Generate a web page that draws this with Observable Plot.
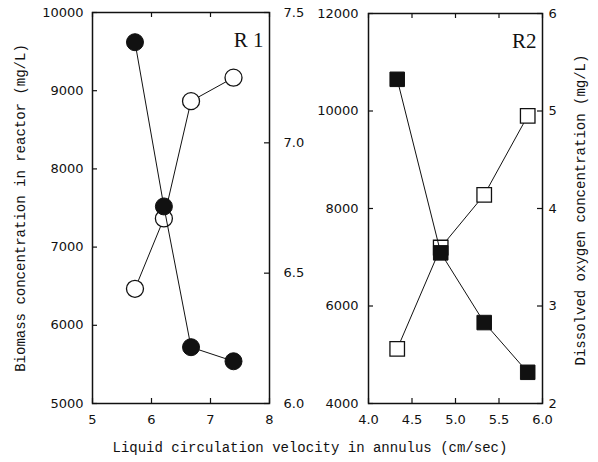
<!DOCTYPE html>
<html><head><meta charset="utf-8">
<script src="https://cdn.jsdelivr.net/npm/d3@7"></script>
<script src="https://cdn.jsdelivr.net/npm/@observablehq/plot@0.6"></script>
<style>
body{margin:0;background:#fff;}
#chart{position:relative;width:598px;height:462px;overflow:hidden;background:#fff;}
#chart svg{position:absolute;left:0;top:0;}
.title{position:absolute;font-family:"Liberation Mono",monospace;font-size:14px;white-space:nowrap;color:#111;line-height:1;}
</style></head><body><div id="chart"></div>
<script>
// Reactor R1
const r1Velocity = [5.72, 6.21, 6.67, 7.39];
const r1Biomass = [9620, 7520, 5720, 5540];
const r1DO = [6.44, 6.71, 7.16, 7.25];
// Reactor R2
const r2Velocity = [4.33, 4.83, 5.33, 5.83];
const r2Biomass = [10650, 7090, 5660, 4640];
const r2DO = [2.56, 3.60, 4.14, 4.95];
// Tick values
const r1XTicks = [5, 6, 7, 8];
const r1BiomassTicks = [5000, 6000, 7000, 8000, 9000, 10000];
const r1DOTicks = [6.0, 6.5, 7.0, 7.5];
const r2XTicks = [4.0, 4.5, 5.0, 5.5, 6.0];
const r2BiomassTicks = [4000, 6000, 8000, 10000, 12000];
const r2DOTicks = [2, 3, 4, 5, 6];

const W = 598, H = 462, TL = 5;
const rowsBio = (v, b) => v.map((x, i) => ({x, y: b[i]}));
const baseStyle = {background: "transparent", fontFamily: "DejaVu Sans", fontSize: "13px", color: "#111", overflow: "visible"};
const chart = document.getElementById("chart");

function panel({margins, xDomain, xTicks, xFmt, bioDomain, bioTicks, doDomain, doTicks, doFmt, vel, bio, dox, symbol, r, label, doPad, bioPad}) {
  const common = {width: W, height: H, ...margins, style: baseStyle};
  const fw = W - margins.marginLeft - margins.marginRight;
  const fh = H - margins.marginTop - margins.marginBottom;
  const dLayer = Plot.plot({
    ...common,
    x: {domain: xDomain, axis: null},
    y: {domain: doDomain, axis: null},
    marks: [
      Plot.axisY({anchor: "right", label: null, ticks: doTicks, tickFormat: doFmt, tickSize: 0, tickPadding: doPad}),
      Plot.tickY(doTicks, {y: d => d, insetLeft: fw - TL, stroke: "#111", strokeWidth: 1.2}),
      Plot.line(rowsBio(vel, dox), {x: "x", y: "y", stroke: "#111", strokeWidth: 1}),
      Plot.dot(rowsBio(vel, dox), {x: "x", y: "y", r, symbol, fill: "white", stroke: "#111", strokeWidth: 1.3})
    ]
  });
  const bLayer = Plot.plot({
    ...common,
    x: {domain: xDomain},
    y: {domain: bioDomain},
    marks: [
      Plot.frame({stroke: "#111", strokeWidth: 1.5}),
      Plot.axisY({anchor: "left", label: null, ticks: bioTicks, tickFormat: d3.format("d"), tickSize: 0, tickPadding: bioPad}),
      Plot.axisX({anchor: "bottom", label: null, ticks: xTicks, tickFormat: xFmt, tickSize: 0, tickPadding: 11}),
      Plot.tickY(bioTicks, {y: d => d, insetRight: fw - TL, stroke: "#111", strokeWidth: 1.2}),
      Plot.tickX(xTicks, {x: d => d, insetTop: fh - TL, stroke: "#111", strokeWidth: 1.2}),
      Plot.tickX(xTicks, {x: d => d, insetBottom: fh - TL, stroke: "#111", strokeWidth: 1.2}),
      Plot.line(rowsBio(vel, bio), {x: "x", y: "y", stroke: "#111", strokeWidth: 1}),
      Plot.dot(rowsBio(vel, bio), {x: "x", y: "y", r, symbol, fill: "#111", stroke: "#111", strokeWidth: 1}),
      Plot.text([label], {text: d => d, frameAnchor: "top-right", dx: -6, dy: 20, fontFamily: "Liberation Serif", fontSize: 21, fill: "#111", textAnchor: "end", lineAnchor: "top"})
    ]
  });
  chart.appendChild(dLayer);
  chart.appendChild(bLayer);
}

panel({
  margins: {marginLeft: 92, marginRight: 329, marginTop: 12, marginBottom: 59},
  xDomain: [5, 8], xTicks: r1XTicks, xFmt: d3.format("d"),
  bioDomain: [5000, 10000], bioTicks: r1BiomassTicks,
  doDomain: [6.0, 7.5], doTicks: r1DOTicks, doFmt: d3.format(".1f"),
  vel: r1Velocity, bio: r1Biomass, dox: r1DO, symbol: "circle", r: 8.5, label: "R 1", doPad: 14, bioPad: 9
});
panel({
  margins: {marginLeft: 368, marginRight: 56, marginTop: 13, marginBottom: 59},
  xDomain: [4, 6], xTicks: r2XTicks, xFmt: d3.format(".1f"),
  bioDomain: [4000, 12000], bioTicks: r2BiomassTicks,
  doDomain: [2, 6], doTicks: r2DOTicks, doFmt: d3.format("d"),
  vel: r2Velocity, bio: r2Biomass, dox: r2DO, symbol: "square", r: 8.2, label: "R2", doPad: 6, bioPad: 10
});

function title(text, cx, cy, rot) {
  const d = document.createElement("div");
  d.className = "title";
  d.textContent = text;
  chart.appendChild(d);
  const w = d.offsetWidth, h = d.offsetHeight;
  d.style.left = (cx - w / 2) + "px";
  d.style.top = (cy - h / 2) + "px";
  if (rot) d.style.transform = `rotate(${rot}deg)`;
}
title("Biomass concentration in reactor (mg/L)", 21, 208, -90);
title("Dissolved oxygen concentration (mg/L)", 581, 210, -90);
title("Liquid circulation velocity in annulus (cm/sec)", 310, 448, 0);
</script></body></html>
